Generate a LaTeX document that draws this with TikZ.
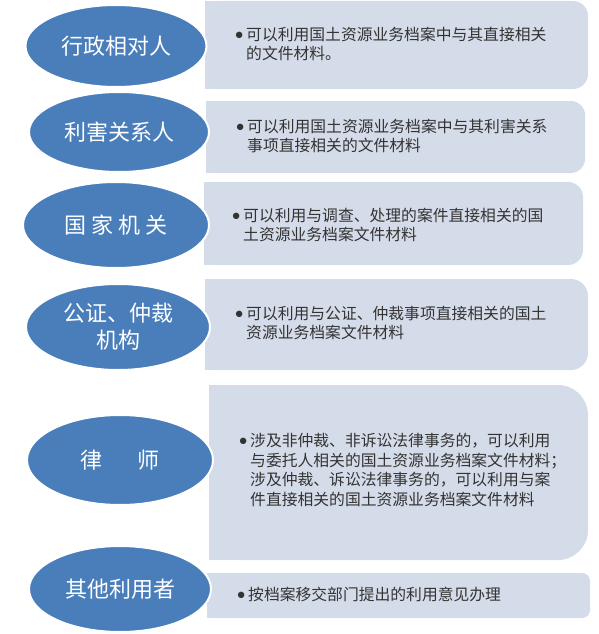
\documentclass[tikz,border=0pt]{standalone}
\usepackage{fontspec}
\usepackage{tikz}
\usetikzlibrary{shapes.geometric}
\newfontfamily\cjk{Noto Sans CJK SC}
\definecolor{ovalblue}{RGB}{74,126,187}
\definecolor{boxgray}{RGB}{213,220,233}
\newcommand{\bulletlines}[1]{\makebox[11pt][l]{\raisebox{1pt}{\scalebox{1.15}{$\bullet$}}}\begin{tabular}[t]{@{}l@{}}#1\end{tabular}}
% box with square left side and rounded right corners
\newcommand{\sidebox}[5]{%
  \fill[boxgray, rounded corners=#5] (#1,#2) rectangle (#3,#4);
  \fill[boxgray] (#1,#2) rectangle ({#1+#5+2},#4);}

\begin{document}
\begin{tikzpicture}[x=1pt, y=-1pt,
    oval/.style={ellipse, fill=ovalblue, draw=white, line width=2pt, inner sep=0pt,
      text=white, align=center, font=\cjk\fontsize{22}{27}\selectfont},
    itemtext/.style={anchor=west, inner sep=0pt, text=black!80,
      font=\cjk\fontsize{15.8}{19.5}\selectfont}]
        \useasboundingbox (0,0) rectangle (599,634);
        \sidebox{205}{1}{588}{89}{15}
        \sidebox{206}{101}{585}{173}{14}
        \sidebox{204}{182}{583}{265}{15}
        \sidebox{205}{279}{588}{370}{17}
        \sidebox{209}{385}{588}{560}{30}
        \sidebox{207}{573}{590}{618}{8}
        \node [oval, minimum width=181pt, minimum height=82pt] (admin) at (116,46) {行政相对人};
        \node [oval, minimum width=180pt, minimum height=80pt] (party) at (119,132) {利害关系人};
        \node [oval, minimum width=186pt, minimum height=86pt] (state) at (116,225) {国\hspace{5pt}家\hspace{5pt}机\hspace{5pt}关};
        \node [oval, minimum width=184pt, minimum height=86pt] (notary) at (118,327) {公证、仲裁\\机构};
        \node [oval, minimum width=186pt, minimum height=90pt] (lawyer) at (120,460) {律\hspace{35pt}师};
        \node [oval, minimum width=182pt, minimum height=86pt] (others) at (120,589) {其他利用者};
        \node [itemtext] (admintext) at (235,46) {\bulletlines{可以利用国土资源业务档案中与其直接相关\\的文件材料。}};
        \node [itemtext] (partytext) at (236,138) {\bulletlines{可以利用国土资源业务档案中与其利害关系\\事项直接相关的文件材料}};
        \node [itemtext] (statetext) at (232,227) {\bulletlines{可以利用与调查、处理的案件直接相关的国\\土资源业务档案文件材料}};
        \node [itemtext] (notarytext) at (235,325) {\bulletlines{可以利用与公证、仲裁事项直接相关的国土\\资源业务档案文件材料}};
        \node [itemtext] (lawyertext) at (239,472) {\bulletlines{涉及非仲裁、非诉讼法律事务的，可以利用\\与委托人相关的国土资源业务档案文件材料；\\涉及仲裁、诉讼法律事务的，可以利用与案\\件直接相关的国土资源业务档案文件材料}};
        \node [itemtext] (otherstext) at (237,597) {\bulletlines{按档案移交部门提出的利用意见办理}};
\end{tikzpicture}
\end{document}
